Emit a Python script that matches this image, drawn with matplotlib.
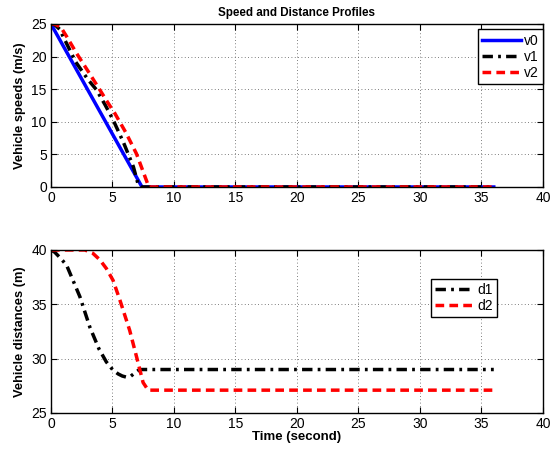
import matplotlib
matplotlib.use('Agg')
import matplotlib.pyplot as plt
import numpy as np

plt.rcParams['font.family'] = ['Liberation Sans', 'DejaVu Sans']

# speed profiles (m/s)
t_v0 = [0, 7.4, 36]
v0 = [25, 0, 0]

t_v1 = [0, 0.3, 0.7, 1.27, 2.0, 3.0, 3.7, 4.4, 5.05, 5.9, 6.7, 7.1, 7.3, 36]
v1 = [25, 24.9, 24.2, 22.0, 19.2, 16.5, 14.9, 12.6, 10.3, 6.8, 3.1, 0.3, 0, 0]

t_v2 = [0, 0.3, 0.8, 1.3, 2.08, 3.0, 3.97, 4.6, 5.19, 6.1, 6.95, 7.76, 7.95, 36]
v2 = [25, 25, 24.5, 23.0, 20.5, 17.8, 14.9, 13.0, 11.3, 8.3, 5.1, 1.0, 0, 0]

# distance profiles (m)
t_d1 = [0, 0.3, 0.73, 1.27, 2.35, 3.16, 3.9, 4.5, 5.0, 5.45, 5.8, 6.13, 6.5, 6.95, 7.2, 36]
d1 = [40, 39.8, 39.3, 38.6, 35.7, 32.9, 30.9, 29.7, 29.0, 28.6, 28.4, 28.3, 28.4, 28.8, 29.0, 29.0]

t_d2 = [0, 1.5, 2.76, 3.4, 3.97, 4.5, 5.05, 5.6, 6.0, 6.4, 6.95, 7.49, 7.9, 36]
d2 = [40, 40, 40, 39.7, 39.1, 38.3, 37.2, 35.4, 34.0, 32.6, 30.2, 27.8, 27.1, 27.1]


def style_axes(ax, ylim, yticks):
    ax.set_xlim(0, 40)
    ax.set_ylim(ylim)
    ax.set_xticks(np.arange(0, 41, 5))
    ax.set_yticks(yticks)
    ax.grid(True, linestyle=(0, (1, 3)), color='#555555', linewidth=0.6)
    ax.tick_params(direction='in', top=True, right=True, labelsize=10, length=4, pad=3)
    for s in ax.spines.values():
        s.set_linewidth(1.0)


fig = plt.figure(figsize=(5.5, 4.51), dpi=100)
ax1 = fig.add_axes([0.0927, 0.5854, 0.8945, 0.3614])
ax2 = fig.add_axes([0.0927, 0.0843, 0.8945, 0.3614])

ax1.plot(t_v0, v0, color='blue', linestyle='-', linewidth=2.5, label='v0')
ax1.plot(t_v1, v1, color='black', linestyle=(0, (3, 1.5, 0.8, 1.5)), linewidth=2.5, label='v1')
ax1.plot(t_v2, v2, color='red', linestyle=(0, (2.5, 1.5)), linewidth=2.5, label='v2')
style_axes(ax1, (0, 25), np.arange(0, 26, 5))
ax1.set_ylabel('Vehicle speeds (m/s)', fontsize=9.3, fontweight='bold')
ax1.set_title('Speed and Distance Profiles', fontsize=8.4, fontweight='bold', pad=6)
leg1 = ax1.legend(loc='upper right', bbox_to_anchor=(1.0, 0.967), fontsize=10,
                  fancybox=False, edgecolor='black', framealpha=1, handlelength=2.8,
                  borderpad=0.3, labelspacing=0.15, handletextpad=0.2, borderaxespad=0)
leg1.get_frame().set_linewidth(1.0)

ax2.plot(t_d1, d1, color='black', linestyle=(0, (3, 1.5, 0.8, 1.5)), linewidth=2.5, label='d1')
ax2.plot(t_d2, d2, color='red', linestyle=(0, (2.5, 1.5)), linewidth=2.5, label='d2')
style_axes(ax2, (25, 40), np.arange(25, 41, 5))
ax2.set_ylabel('Vehicle distances (m)', fontsize=9.3, fontweight='bold')
ax2.set_xlabel('Time (second)', fontsize=9.5, fontweight='bold', labelpad=0)
leg2 = ax2.legend(loc='upper right', bbox_to_anchor=(0.906, 0.822), fontsize=10,
                  fancybox=False, edgecolor='black', framealpha=1, handlelength=2.8,
                  borderpad=0.3, labelspacing=0.15, handletextpad=0.2, borderaxespad=0)
leg2.get_frame().set_linewidth(1.0)

fig.savefig('out.png', dpi=100)
plt.close(fig)
